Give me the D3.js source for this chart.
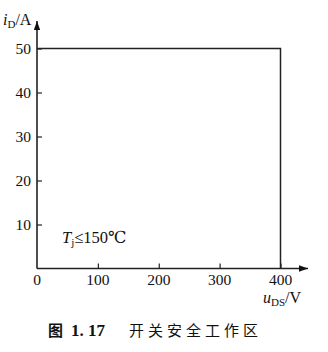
<!DOCTYPE html>
<html><head><meta charset="utf-8">
<script src="https://cdn.jsdelivr.net/npm/d3@7"></script>
<style>body{margin:0;background:#fff}svg{display:block}</style>
</head><body>
<script>
const xTicks = [0, 100, 200, 300, 400];
const yTicks = [10, 20, 30, 40, 50];
const boundaryU = [0, 400, 400];
const boundaryI = [50, 50, 0];

const W = 328, H = 352;
const svg = d3.select("body").append("svg").attr("width", W).attr("height", H);
const x = d3.scaleLinear().domain([0, 400]).range([37, 280.5]);
const y = d3.scaleLinear().domain([0, 50]).range([268.5, 48.5]);
const serif = "'Liberation Serif','DejaVu Serif',serif";
const stroke = "#222";

svg.append("defs").append("marker").attr("id","arr").attr("viewBox","0 0 10 10")
  .attr("refX",10).attr("refY",5).attr("markerWidth",9).attr("markerHeight",9)
  .attr("markerUnits","userSpaceOnUse").attr("orient","auto")
  .append("path").attr("d","M0,1.5 L10,5 L0,8.5 Z").attr("fill","#111");

svg.append("line").attr("x1", x(0)).attr("y1", y(0)).attr("x2", x(0)).attr("y2", 21)
  .attr("stroke", stroke).attr("stroke-width",1.6).attr("marker-end","url(#arr)");
svg.append("line").attr("x1", x(0)).attr("y1", y(0)).attr("x2", 308).attr("y2", y(0))
  .attr("stroke", stroke).attr("stroke-width",1.6).attr("marker-end","url(#arr)");

const yAxis = d3.axisRight(y).tickValues(yTicks).tickSize(5).tickFormat("");
const gy = svg.append("g").attr("transform", `translate(${x(0)},0)`).call(yAxis);
gy.select(".domain").remove();
gy.selectAll("line").attr("stroke", stroke).attr("stroke-width",1.2);
const xAxis = d3.axisTop(x).tickValues(xTicks.slice(1)).tickSize(5).tickFormat("");
const gx = svg.append("g").attr("transform", `translate(0,${y(0)})`).call(xAxis);
gx.select(".domain").remove();
gx.selectAll("line").attr("stroke", stroke).attr("stroke-width",1.2);

svg.selectAll(".yl").data(yTicks).enter().append("text")
  .attr("x", 31).attr("y", d => y(d) + 5).attr("text-anchor","end")
  .attr("font-family", serif).attr("font-size", 15.5).attr("fill","#111").text(d => d);
svg.selectAll(".xl").data(xTicks).enter().append("text")
  .attr("x", d => x(d)).attr("y", 285).attr("text-anchor","middle")
  .attr("font-family", serif).attr("font-size", 15.5).attr("fill","#111").text(d => d);

const line = d3.line().x((d,i) => x(boundaryU[i])).y(d => y(d));
svg.append("path").datum(boundaryI).attr("d", line)
  .attr("fill","none").attr("stroke", stroke).attr("stroke-width",1.5);

const yl = svg.append("text").attr("x", 3).attr("y", 25).attr("font-family", serif)
  .attr("font-size", 16).attr("fill","#111");
yl.append("tspan").attr("font-style","italic").text("i");
yl.append("tspan").attr("font-size", 11).attr("dy", 3).text("D");
yl.append("tspan").attr("dy", -3).text("/A");

const xl = svg.append("text").attr("x", 263).attr("y", 303).attr("font-family", serif)
  .attr("font-size", 16).attr("fill","#111");
xl.append("tspan").attr("font-style","italic").text("u");
xl.append("tspan").attr("font-size", 11).attr("dy", 3).text("DS");
xl.append("tspan").attr("dy", -3).text("/V");

const an = svg.append("text").attr("x", 62).attr("y", 243).attr("font-family", serif)
  .attr("font-size", 16.5).attr("fill","#111");
an.append("tspan").attr("font-style","italic").text("T");
an.append("tspan").attr("font-size", 11).attr("dy", 3).text("j");
an.append("tspan").attr("dy", -3).text("≤150℃");

const cap = svg.append("text").attr("y", 336).attr("font-size", 15).attr("fill","#111");
cap.append("tspan").attr("x", 48).attr("font-family","'Noto Sans CJK SC',sans-serif").attr("font-weight","bold").text("图");
cap.append("tspan").attr("x", 71).attr("font-family", serif).attr("font-weight","bold")
  .attr("font-size", 17).text("1. 17");
cap.append("tspan").attr("x", 129).attr("font-family","'Noto Sans CJK SC',sans-serif")
  .attr("letter-spacing", 4).text("开关安全工作区");
</script>
</body></html>
